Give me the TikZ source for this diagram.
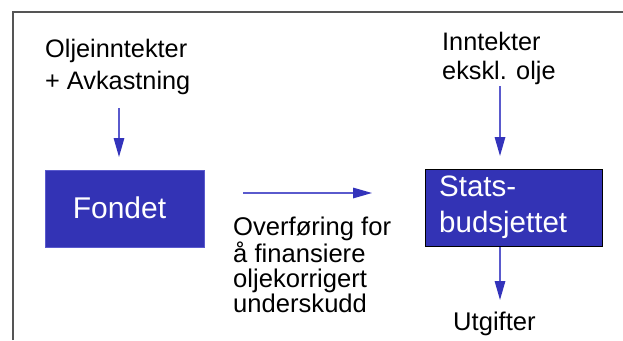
\documentclass[tikz,border=0pt]{standalone}
\usepackage{fontspec}
\setmainfont{Liberation Sans}
\usetikzlibrary{arrows.meta}
\definecolor{boxblue}{RGB}{51,51,181}
\definecolor{arrline}{RGB}{90,90,205}
\definecolor{arrhead}{RGB}{51,51,187}
\definecolor{framegray}{RGB}{85,85,85}
\tikzset{
  arr/.style={draw=arrline, line width=1.5pt, -{Triangle[length=19pt,width=10.5pt,color=arrhead]}},
  lbl/.style={inner sep=0pt, anchor=base west, align=left, font=\fontsize{25}{30}\selectfont},
  bluebox/.style={fill=boxblue, inner sep=0pt, anchor=north west},
}
\begin{document}
\begin{tikzpicture}[x=1pt,y=-1pt]
\useasboundingbox (0,0) rectangle (623,340);
% frame
\draw[framegray, line width=1.6pt] (13,340) -- (13,12) -- (623,12);
% labels (base anchor = baseline of the last line)
\node[lbl, font=\fontsize{25.3}{32}\selectfont] (olje) at (45,89) {Oljeinntekter\\+ Avkastning};
\node[lbl, font=\fontsize{25.3}{29}\selectfont] (inntekt) at (442,79) {Inntekter\\ekskl. olje};
\node[lbl, font=\fontsize{25.6}{25}\selectfont] (overf) at (233,312) {Overføring for\\å finansiere\\oljekorrigert\\underskudd};
\node[lbl, font=\fontsize{25.6}{30}\selectfont] (utg) at (453,330) {Utgifter};
% boxes
\node[bluebox, draw=arrline, line width=0.6pt, minimum width=159pt, minimum height=77pt] (fondet) at (45,170) {};
\node[text=white, font=\fontsize{30}{36}\selectfont, anchor=base] (fondettxt) at (119.5,218) {Fondet};
\node[bluebox, draw=black, line width=1pt, minimum width=177pt, minimum height=77pt] (stats) at (425,169) {};
\node[lbl, text=white, font=\fontsize{29.5}{36}\selectfont] (statstxt) at (439,232) {Stats-\\budsjettet};
% connectors
\coordinate (a1s) at (119,108);
\coordinate (a1e) at (119,157);
\draw[arr] (a1s) -- (a1e);
\coordinate (h1) at (243,193);
\coordinate (h2) at (372,193);
\draw[arr] (h1) -- (h2);
\coordinate (a2s) at (500,86);
\coordinate (a2e) at (500,156);
\draw[arr] (a2s) -- (a2e);
\coordinate (a3e) at (500,300);
\draw[arr] (stats.south -| a3e) -- (a3e);
\end{tikzpicture}
\end{document}
